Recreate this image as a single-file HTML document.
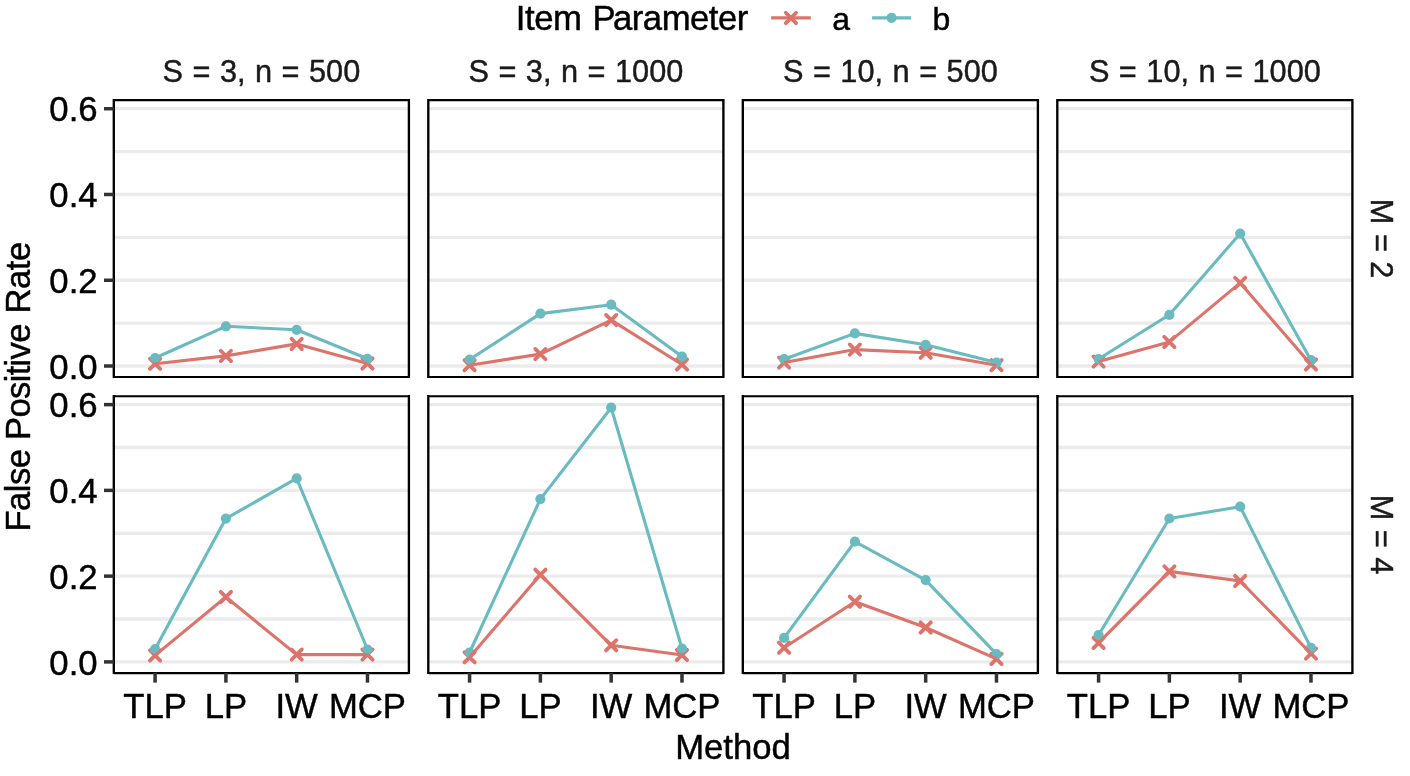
<!DOCTYPE html>
<html lang="en">
<head>
<meta charset="utf-8">
<title>False Positive Rate by Method</title>
<style>
html,body{margin:0;padding:0;background:#fff;}
body{width:1410px;height:776px;overflow:hidden;font-family:"Liberation Sans",Arial,Helvetica,sans-serif;}
svg{display:block;}
</style>
</head>
<body>
<svg width="1410" height="776" viewBox="0 0 1410 776" font-family="'Liberation Sans', Arial, Helvetica, sans-serif">
<style>text{stroke:#000;stroke-width:0.45px;stroke-linejoin:round} text.s{stroke:#1a1a1a}</style>
<rect width="1410" height="776" fill="#fff"/>
<g>
<line x1="113.80" x2="408.90" y1="366.00" y2="366.00" stroke="#EBEBEB" stroke-width="3.3"/>
<line x1="113.80" x2="408.90" y1="323.12" y2="323.12" stroke="#EBEBEB" stroke-width="3.3"/>
<line x1="113.80" x2="408.90" y1="280.24" y2="280.24" stroke="#EBEBEB" stroke-width="3.3"/>
<line x1="113.80" x2="408.90" y1="237.36" y2="237.36" stroke="#EBEBEB" stroke-width="3.3"/>
<line x1="113.80" x2="408.90" y1="194.48" y2="194.48" stroke="#EBEBEB" stroke-width="3.3"/>
<line x1="113.80" x2="408.90" y1="151.60" y2="151.60" stroke="#EBEBEB" stroke-width="3.3"/>
<line x1="113.80" x2="408.90" y1="108.72" y2="108.72" stroke="#EBEBEB" stroke-width="3.3"/>
<path d="M149.93 358.65L160.23 368.95M149.93 368.95L160.23 358.65" stroke="#DC746C" stroke-width="3.8" stroke-linecap="round" fill="none"/>
<path d="M220.73 350.75L231.03 361.05M220.73 361.05L231.03 350.75" stroke="#DC746C" stroke-width="3.8" stroke-linecap="round" fill="none"/>
<path d="M291.53 338.75L301.83 349.05M291.53 349.05L301.83 338.75" stroke="#DC746C" stroke-width="3.8" stroke-linecap="round" fill="none"/>
<path d="M362.33 358.35L372.63 368.65M362.33 368.65L372.63 358.35" stroke="#DC746C" stroke-width="3.8" stroke-linecap="round" fill="none"/>
<circle cx="155.08" cy="358.00" r="5.1" fill="#6ABBC0"/>
<circle cx="225.88" cy="326.30" r="5.1" fill="#6ABBC0"/>
<circle cx="296.68" cy="329.80" r="5.1" fill="#6ABBC0"/>
<circle cx="367.48" cy="358.80" r="5.1" fill="#6ABBC0"/>
<polyline points="155.08,363.80 225.88,355.90 296.68,343.90 367.48,363.50" fill="none" stroke="#DC746C" stroke-width="3.1" stroke-linejoin="round" stroke-linecap="butt"/>
<polyline points="155.08,358.00 225.88,326.30 296.68,329.80 367.48,358.80" fill="none" stroke="#6ABBC0" stroke-width="3.1" stroke-linejoin="round" stroke-linecap="butt"/>
<path d="M113.80 98.95V377.95M408.90 98.95V377.95" stroke="#000" stroke-width="2.35" fill="none"/>
<path d="M113.80 100.15H408.90M113.80 377.05H408.90" stroke="#000" stroke-width="2.1" fill="none"/>
</g>
<g>
<line x1="428.30" x2="723.40" y1="366.00" y2="366.00" stroke="#EBEBEB" stroke-width="3.3"/>
<line x1="428.30" x2="723.40" y1="323.12" y2="323.12" stroke="#EBEBEB" stroke-width="3.3"/>
<line x1="428.30" x2="723.40" y1="280.24" y2="280.24" stroke="#EBEBEB" stroke-width="3.3"/>
<line x1="428.30" x2="723.40" y1="237.36" y2="237.36" stroke="#EBEBEB" stroke-width="3.3"/>
<line x1="428.30" x2="723.40" y1="194.48" y2="194.48" stroke="#EBEBEB" stroke-width="3.3"/>
<line x1="428.30" x2="723.40" y1="151.60" y2="151.60" stroke="#EBEBEB" stroke-width="3.3"/>
<line x1="428.30" x2="723.40" y1="108.72" y2="108.72" stroke="#EBEBEB" stroke-width="3.3"/>
<path d="M464.43 360.05L474.73 370.35M464.43 370.35L474.73 360.05" stroke="#DC746C" stroke-width="3.8" stroke-linecap="round" fill="none"/>
<path d="M535.23 348.95L545.53 359.25M535.23 359.25L545.53 348.95" stroke="#DC746C" stroke-width="3.8" stroke-linecap="round" fill="none"/>
<path d="M606.03 314.95L616.33 325.25M606.03 325.25L616.33 314.95" stroke="#DC746C" stroke-width="3.8" stroke-linecap="round" fill="none"/>
<path d="M676.83 359.35L687.13 369.65M676.83 369.65L687.13 359.35" stroke="#DC746C" stroke-width="3.8" stroke-linecap="round" fill="none"/>
<circle cx="469.58" cy="359.50" r="5.1" fill="#6ABBC0"/>
<circle cx="540.38" cy="313.60" r="5.1" fill="#6ABBC0"/>
<circle cx="611.18" cy="304.70" r="5.1" fill="#6ABBC0"/>
<circle cx="681.98" cy="356.50" r="5.1" fill="#6ABBC0"/>
<polyline points="469.58,365.20 540.38,354.10 611.18,320.10 681.98,364.50" fill="none" stroke="#DC746C" stroke-width="3.1" stroke-linejoin="round" stroke-linecap="butt"/>
<polyline points="469.58,359.50 540.38,313.60 611.18,304.70 681.98,356.50" fill="none" stroke="#6ABBC0" stroke-width="3.1" stroke-linejoin="round" stroke-linecap="butt"/>
<path d="M428.30 98.95V377.95M723.40 98.95V377.95" stroke="#000" stroke-width="2.35" fill="none"/>
<path d="M428.30 100.15H723.40M428.30 377.05H723.40" stroke="#000" stroke-width="2.1" fill="none"/>
</g>
<g>
<line x1="742.80" x2="1037.90" y1="366.00" y2="366.00" stroke="#EBEBEB" stroke-width="3.3"/>
<line x1="742.80" x2="1037.90" y1="323.12" y2="323.12" stroke="#EBEBEB" stroke-width="3.3"/>
<line x1="742.80" x2="1037.90" y1="280.24" y2="280.24" stroke="#EBEBEB" stroke-width="3.3"/>
<line x1="742.80" x2="1037.90" y1="237.36" y2="237.36" stroke="#EBEBEB" stroke-width="3.3"/>
<line x1="742.80" x2="1037.90" y1="194.48" y2="194.48" stroke="#EBEBEB" stroke-width="3.3"/>
<line x1="742.80" x2="1037.90" y1="151.60" y2="151.60" stroke="#EBEBEB" stroke-width="3.3"/>
<line x1="742.80" x2="1037.90" y1="108.72" y2="108.72" stroke="#EBEBEB" stroke-width="3.3"/>
<path d="M778.93 357.45L789.23 367.75M778.93 367.75L789.23 357.45" stroke="#DC746C" stroke-width="3.8" stroke-linecap="round" fill="none"/>
<path d="M849.73 344.45L860.03 354.75M849.73 354.75L860.03 344.45" stroke="#DC746C" stroke-width="3.8" stroke-linecap="round" fill="none"/>
<path d="M920.53 347.65L930.83 357.95M920.53 357.95L930.83 347.65" stroke="#DC746C" stroke-width="3.8" stroke-linecap="round" fill="none"/>
<path d="M991.33 360.05L1001.63 370.35M991.33 370.35L1001.63 360.05" stroke="#DC746C" stroke-width="3.8" stroke-linecap="round" fill="none"/>
<circle cx="784.08" cy="359.20" r="5.1" fill="#6ABBC0"/>
<circle cx="854.88" cy="333.40" r="5.1" fill="#6ABBC0"/>
<circle cx="925.68" cy="344.80" r="5.1" fill="#6ABBC0"/>
<circle cx="996.48" cy="362.60" r="5.1" fill="#6ABBC0"/>
<polyline points="784.08,362.60 854.88,349.60 925.68,352.80 996.48,365.20" fill="none" stroke="#DC746C" stroke-width="3.1" stroke-linejoin="round" stroke-linecap="butt"/>
<polyline points="784.08,359.20 854.88,333.40 925.68,344.80 996.48,362.60" fill="none" stroke="#6ABBC0" stroke-width="3.1" stroke-linejoin="round" stroke-linecap="butt"/>
<path d="M742.80 98.95V377.95M1037.90 98.95V377.95" stroke="#000" stroke-width="2.35" fill="none"/>
<path d="M742.80 100.15H1037.90M742.80 377.05H1037.90" stroke="#000" stroke-width="2.1" fill="none"/>
</g>
<g>
<line x1="1057.30" x2="1352.40" y1="366.00" y2="366.00" stroke="#EBEBEB" stroke-width="3.3"/>
<line x1="1057.30" x2="1352.40" y1="323.12" y2="323.12" stroke="#EBEBEB" stroke-width="3.3"/>
<line x1="1057.30" x2="1352.40" y1="280.24" y2="280.24" stroke="#EBEBEB" stroke-width="3.3"/>
<line x1="1057.30" x2="1352.40" y1="237.36" y2="237.36" stroke="#EBEBEB" stroke-width="3.3"/>
<line x1="1057.30" x2="1352.40" y1="194.48" y2="194.48" stroke="#EBEBEB" stroke-width="3.3"/>
<line x1="1057.30" x2="1352.40" y1="151.60" y2="151.60" stroke="#EBEBEB" stroke-width="3.3"/>
<line x1="1057.30" x2="1352.40" y1="108.72" y2="108.72" stroke="#EBEBEB" stroke-width="3.3"/>
<path d="M1093.43 356.45L1103.73 366.75M1093.43 366.75L1103.73 356.45" stroke="#DC746C" stroke-width="3.8" stroke-linecap="round" fill="none"/>
<path d="M1164.23 336.75L1174.53 347.05M1164.23 347.05L1174.53 336.75" stroke="#DC746C" stroke-width="3.8" stroke-linecap="round" fill="none"/>
<path d="M1235.03 277.75L1245.33 288.05M1235.03 288.05L1245.33 277.75" stroke="#DC746C" stroke-width="3.8" stroke-linecap="round" fill="none"/>
<path d="M1305.83 359.35L1316.13 369.65M1305.83 369.65L1316.13 359.35" stroke="#DC746C" stroke-width="3.8" stroke-linecap="round" fill="none"/>
<circle cx="1098.58" cy="359.00" r="5.1" fill="#6ABBC0"/>
<circle cx="1169.38" cy="314.80" r="5.1" fill="#6ABBC0"/>
<circle cx="1240.18" cy="233.60" r="5.1" fill="#6ABBC0"/>
<circle cx="1310.98" cy="360.20" r="5.1" fill="#6ABBC0"/>
<polyline points="1098.58,361.60 1169.38,341.90 1240.18,282.90 1310.98,364.50" fill="none" stroke="#DC746C" stroke-width="3.1" stroke-linejoin="round" stroke-linecap="butt"/>
<polyline points="1098.58,359.00 1169.38,314.80 1240.18,233.60 1310.98,360.20" fill="none" stroke="#6ABBC0" stroke-width="3.1" stroke-linejoin="round" stroke-linecap="butt"/>
<path d="M1057.30 98.95V377.95M1352.40 98.95V377.95" stroke="#000" stroke-width="2.35" fill="none"/>
<path d="M1057.30 100.15H1352.40M1057.30 377.05H1352.40" stroke="#000" stroke-width="2.1" fill="none"/>
</g>
<line x1="104.0" x2="113.80" y1="366.00" y2="366.00" stroke="#333333" stroke-width="3.5"/>
<text x="97.6" y="378.60" font-size="34.7" text-anchor="end" fill="#000">0.0</text>
<line x1="104.0" x2="113.80" y1="280.24" y2="280.24" stroke="#333333" stroke-width="3.5"/>
<text x="97.6" y="292.84" font-size="34.7" text-anchor="end" fill="#000">0.2</text>
<line x1="104.0" x2="113.80" y1="194.48" y2="194.48" stroke="#333333" stroke-width="3.5"/>
<text x="97.6" y="207.08" font-size="34.7" text-anchor="end" fill="#000">0.4</text>
<line x1="104.0" x2="113.80" y1="108.72" y2="108.72" stroke="#333333" stroke-width="3.5"/>
<text x="97.6" y="121.32" font-size="34.7" text-anchor="end" fill="#000">0.6</text>
<text transform="translate(1370.6,238.6) rotate(90)" font-size="30.7" text-anchor="middle" class="s" fill="#1a1a1a" word-spacing="1">M = 2</text>
<g>
<line x1="113.80" x2="408.90" y1="661.90" y2="661.90" stroke="#EBEBEB" stroke-width="3.3"/>
<line x1="113.80" x2="408.90" y1="619.02" y2="619.02" stroke="#EBEBEB" stroke-width="3.3"/>
<line x1="113.80" x2="408.90" y1="576.14" y2="576.14" stroke="#EBEBEB" stroke-width="3.3"/>
<line x1="113.80" x2="408.90" y1="533.26" y2="533.26" stroke="#EBEBEB" stroke-width="3.3"/>
<line x1="113.80" x2="408.90" y1="490.38" y2="490.38" stroke="#EBEBEB" stroke-width="3.3"/>
<line x1="113.80" x2="408.90" y1="447.50" y2="447.50" stroke="#EBEBEB" stroke-width="3.3"/>
<line x1="113.80" x2="408.90" y1="404.62" y2="404.62" stroke="#EBEBEB" stroke-width="3.3"/>
<path d="M149.93 650.25L160.23 660.55M149.93 660.55L160.23 650.25" stroke="#DC746C" stroke-width="3.8" stroke-linecap="round" fill="none"/>
<path d="M220.73 591.85L231.03 602.15M220.73 602.15L231.03 591.85" stroke="#DC746C" stroke-width="3.8" stroke-linecap="round" fill="none"/>
<path d="M291.53 649.45L301.83 659.75M291.53 659.75L301.83 649.45" stroke="#DC746C" stroke-width="3.8" stroke-linecap="round" fill="none"/>
<path d="M362.33 649.45L372.63 659.75M362.33 659.75L372.63 649.45" stroke="#DC746C" stroke-width="3.8" stroke-linecap="round" fill="none"/>
<circle cx="155.08" cy="649.00" r="5.1" fill="#6ABBC0"/>
<circle cx="225.88" cy="518.60" r="5.1" fill="#6ABBC0"/>
<circle cx="296.68" cy="478.40" r="5.1" fill="#6ABBC0"/>
<circle cx="367.48" cy="649.50" r="5.1" fill="#6ABBC0"/>
<polyline points="155.08,655.40 225.88,597.00 296.68,654.60 367.48,654.60" fill="none" stroke="#DC746C" stroke-width="3.1" stroke-linejoin="round" stroke-linecap="butt"/>
<polyline points="155.08,649.00 225.88,518.60 296.68,478.40 367.48,649.50" fill="none" stroke="#6ABBC0" stroke-width="3.1" stroke-linejoin="round" stroke-linecap="butt"/>
<path d="M113.80 395.00V674.00M408.90 395.00V674.00" stroke="#000" stroke-width="2.35" fill="none"/>
<path d="M113.80 396.20H408.90M113.80 673.10H408.90" stroke="#000" stroke-width="2.1" fill="none"/>
</g>
<line x1="155.08" x2="155.08" y1="672.95" y2="682.65" stroke="#333333" stroke-width="3.5"/>
<text x="155.08" y="718.2" font-size="34.7" text-anchor="middle" fill="#000">TLP</text>
<line x1="225.88" x2="225.88" y1="672.95" y2="682.65" stroke="#333333" stroke-width="3.5"/>
<text x="225.88" y="718.2" font-size="34.7" text-anchor="middle" fill="#000">LP</text>
<line x1="296.68" x2="296.68" y1="672.95" y2="682.65" stroke="#333333" stroke-width="3.5"/>
<text x="296.68" y="718.2" font-size="34.7" text-anchor="middle" fill="#000">IW</text>
<line x1="367.48" x2="367.48" y1="672.95" y2="682.65" stroke="#333333" stroke-width="3.5"/>
<text x="367.48" y="718.2" font-size="34.7" text-anchor="middle" fill="#000">MCP</text>
<g>
<line x1="428.30" x2="723.40" y1="661.90" y2="661.90" stroke="#EBEBEB" stroke-width="3.3"/>
<line x1="428.30" x2="723.40" y1="619.02" y2="619.02" stroke="#EBEBEB" stroke-width="3.3"/>
<line x1="428.30" x2="723.40" y1="576.14" y2="576.14" stroke="#EBEBEB" stroke-width="3.3"/>
<line x1="428.30" x2="723.40" y1="533.26" y2="533.26" stroke="#EBEBEB" stroke-width="3.3"/>
<line x1="428.30" x2="723.40" y1="490.38" y2="490.38" stroke="#EBEBEB" stroke-width="3.3"/>
<line x1="428.30" x2="723.40" y1="447.50" y2="447.50" stroke="#EBEBEB" stroke-width="3.3"/>
<line x1="428.30" x2="723.40" y1="404.62" y2="404.62" stroke="#EBEBEB" stroke-width="3.3"/>
<path d="M464.43 652.15L474.73 662.45M464.43 662.45L474.73 652.15" stroke="#DC746C" stroke-width="3.8" stroke-linecap="round" fill="none"/>
<path d="M535.23 569.55L545.53 579.85M535.23 579.85L545.53 569.55" stroke="#DC746C" stroke-width="3.8" stroke-linecap="round" fill="none"/>
<path d="M606.03 640.15L616.33 650.45M606.03 650.45L616.33 640.15" stroke="#DC746C" stroke-width="3.8" stroke-linecap="round" fill="none"/>
<path d="M676.83 649.85L687.13 660.15M676.83 660.15L687.13 649.85" stroke="#DC746C" stroke-width="3.8" stroke-linecap="round" fill="none"/>
<circle cx="469.58" cy="652.50" r="5.1" fill="#6ABBC0"/>
<circle cx="540.38" cy="499.10" r="5.1" fill="#6ABBC0"/>
<circle cx="611.18" cy="407.70" r="5.1" fill="#6ABBC0"/>
<circle cx="681.98" cy="648.50" r="5.1" fill="#6ABBC0"/>
<polyline points="469.58,657.30 540.38,574.70 611.18,645.30 681.98,655.00" fill="none" stroke="#DC746C" stroke-width="3.1" stroke-linejoin="round" stroke-linecap="butt"/>
<polyline points="469.58,652.50 540.38,499.10 611.18,407.70 681.98,648.50" fill="none" stroke="#6ABBC0" stroke-width="3.1" stroke-linejoin="round" stroke-linecap="butt"/>
<path d="M428.30 395.00V674.00M723.40 395.00V674.00" stroke="#000" stroke-width="2.35" fill="none"/>
<path d="M428.30 396.20H723.40M428.30 673.10H723.40" stroke="#000" stroke-width="2.1" fill="none"/>
</g>
<line x1="469.58" x2="469.58" y1="672.95" y2="682.65" stroke="#333333" stroke-width="3.5"/>
<text x="469.58" y="718.2" font-size="34.7" text-anchor="middle" fill="#000">TLP</text>
<line x1="540.38" x2="540.38" y1="672.95" y2="682.65" stroke="#333333" stroke-width="3.5"/>
<text x="540.38" y="718.2" font-size="34.7" text-anchor="middle" fill="#000">LP</text>
<line x1="611.18" x2="611.18" y1="672.95" y2="682.65" stroke="#333333" stroke-width="3.5"/>
<text x="611.18" y="718.2" font-size="34.7" text-anchor="middle" fill="#000">IW</text>
<line x1="681.98" x2="681.98" y1="672.95" y2="682.65" stroke="#333333" stroke-width="3.5"/>
<text x="681.98" y="718.2" font-size="34.7" text-anchor="middle" fill="#000">MCP</text>
<g>
<line x1="742.80" x2="1037.90" y1="661.90" y2="661.90" stroke="#EBEBEB" stroke-width="3.3"/>
<line x1="742.80" x2="1037.90" y1="619.02" y2="619.02" stroke="#EBEBEB" stroke-width="3.3"/>
<line x1="742.80" x2="1037.90" y1="576.14" y2="576.14" stroke="#EBEBEB" stroke-width="3.3"/>
<line x1="742.80" x2="1037.90" y1="533.26" y2="533.26" stroke="#EBEBEB" stroke-width="3.3"/>
<line x1="742.80" x2="1037.90" y1="490.38" y2="490.38" stroke="#EBEBEB" stroke-width="3.3"/>
<line x1="742.80" x2="1037.90" y1="447.50" y2="447.50" stroke="#EBEBEB" stroke-width="3.3"/>
<line x1="742.80" x2="1037.90" y1="404.62" y2="404.62" stroke="#EBEBEB" stroke-width="3.3"/>
<path d="M778.93 642.55L789.23 652.85M778.93 652.85L789.23 642.55" stroke="#DC746C" stroke-width="3.8" stroke-linecap="round" fill="none"/>
<path d="M849.73 596.55L860.03 606.85M849.73 606.85L860.03 596.55" stroke="#DC746C" stroke-width="3.8" stroke-linecap="round" fill="none"/>
<path d="M920.53 622.35L930.83 632.65M920.53 632.65L930.83 622.35" stroke="#DC746C" stroke-width="3.8" stroke-linecap="round" fill="none"/>
<path d="M991.33 653.75L1001.63 664.05M991.33 664.05L1001.63 653.75" stroke="#DC746C" stroke-width="3.8" stroke-linecap="round" fill="none"/>
<circle cx="784.08" cy="637.90" r="5.1" fill="#6ABBC0"/>
<circle cx="854.88" cy="541.60" r="5.1" fill="#6ABBC0"/>
<circle cx="925.68" cy="580.10" r="5.1" fill="#6ABBC0"/>
<circle cx="996.48" cy="654.10" r="5.1" fill="#6ABBC0"/>
<polyline points="784.08,647.70 854.88,601.70 925.68,627.50 996.48,658.90" fill="none" stroke="#DC746C" stroke-width="3.1" stroke-linejoin="round" stroke-linecap="butt"/>
<polyline points="784.08,637.90 854.88,541.60 925.68,580.10 996.48,654.10" fill="none" stroke="#6ABBC0" stroke-width="3.1" stroke-linejoin="round" stroke-linecap="butt"/>
<path d="M742.80 395.00V674.00M1037.90 395.00V674.00" stroke="#000" stroke-width="2.35" fill="none"/>
<path d="M742.80 396.20H1037.90M742.80 673.10H1037.90" stroke="#000" stroke-width="2.1" fill="none"/>
</g>
<line x1="784.08" x2="784.08" y1="672.95" y2="682.65" stroke="#333333" stroke-width="3.5"/>
<text x="784.08" y="718.2" font-size="34.7" text-anchor="middle" fill="#000">TLP</text>
<line x1="854.88" x2="854.88" y1="672.95" y2="682.65" stroke="#333333" stroke-width="3.5"/>
<text x="854.88" y="718.2" font-size="34.7" text-anchor="middle" fill="#000">LP</text>
<line x1="925.68" x2="925.68" y1="672.95" y2="682.65" stroke="#333333" stroke-width="3.5"/>
<text x="925.68" y="718.2" font-size="34.7" text-anchor="middle" fill="#000">IW</text>
<line x1="996.48" x2="996.48" y1="672.95" y2="682.65" stroke="#333333" stroke-width="3.5"/>
<text x="996.48" y="718.2" font-size="34.7" text-anchor="middle" fill="#000">MCP</text>
<g>
<line x1="1057.30" x2="1352.40" y1="661.90" y2="661.90" stroke="#EBEBEB" stroke-width="3.3"/>
<line x1="1057.30" x2="1352.40" y1="619.02" y2="619.02" stroke="#EBEBEB" stroke-width="3.3"/>
<line x1="1057.30" x2="1352.40" y1="576.14" y2="576.14" stroke="#EBEBEB" stroke-width="3.3"/>
<line x1="1057.30" x2="1352.40" y1="533.26" y2="533.26" stroke="#EBEBEB" stroke-width="3.3"/>
<line x1="1057.30" x2="1352.40" y1="490.38" y2="490.38" stroke="#EBEBEB" stroke-width="3.3"/>
<line x1="1057.30" x2="1352.40" y1="447.50" y2="447.50" stroke="#EBEBEB" stroke-width="3.3"/>
<line x1="1057.30" x2="1352.40" y1="404.62" y2="404.62" stroke="#EBEBEB" stroke-width="3.3"/>
<path d="M1093.43 637.75L1103.73 648.05M1093.43 648.05L1103.73 637.75" stroke="#DC746C" stroke-width="3.8" stroke-linecap="round" fill="none"/>
<path d="M1164.23 566.25L1174.53 576.55M1164.23 576.55L1174.53 566.25" stroke="#DC746C" stroke-width="3.8" stroke-linecap="round" fill="none"/>
<path d="M1235.03 575.85L1245.33 586.15M1235.03 586.15L1245.33 575.85" stroke="#DC746C" stroke-width="3.8" stroke-linecap="round" fill="none"/>
<path d="M1305.83 648.45L1316.13 658.75M1305.83 658.75L1316.13 648.45" stroke="#DC746C" stroke-width="3.8" stroke-linecap="round" fill="none"/>
<circle cx="1098.58" cy="635.00" r="5.1" fill="#6ABBC0"/>
<circle cx="1169.38" cy="518.50" r="5.1" fill="#6ABBC0"/>
<circle cx="1240.18" cy="506.70" r="5.1" fill="#6ABBC0"/>
<circle cx="1310.98" cy="647.90" r="5.1" fill="#6ABBC0"/>
<polyline points="1098.58,642.90 1169.38,571.40 1240.18,581.00 1310.98,653.60" fill="none" stroke="#DC746C" stroke-width="3.1" stroke-linejoin="round" stroke-linecap="butt"/>
<polyline points="1098.58,635.00 1169.38,518.50 1240.18,506.70 1310.98,647.90" fill="none" stroke="#6ABBC0" stroke-width="3.1" stroke-linejoin="round" stroke-linecap="butt"/>
<path d="M1057.30 395.00V674.00M1352.40 395.00V674.00" stroke="#000" stroke-width="2.35" fill="none"/>
<path d="M1057.30 396.20H1352.40M1057.30 673.10H1352.40" stroke="#000" stroke-width="2.1" fill="none"/>
</g>
<line x1="1098.58" x2="1098.58" y1="672.95" y2="682.65" stroke="#333333" stroke-width="3.5"/>
<text x="1098.58" y="718.2" font-size="34.7" text-anchor="middle" fill="#000">TLP</text>
<line x1="1169.38" x2="1169.38" y1="672.95" y2="682.65" stroke="#333333" stroke-width="3.5"/>
<text x="1169.38" y="718.2" font-size="34.7" text-anchor="middle" fill="#000">LP</text>
<line x1="1240.18" x2="1240.18" y1="672.95" y2="682.65" stroke="#333333" stroke-width="3.5"/>
<text x="1240.18" y="718.2" font-size="34.7" text-anchor="middle" fill="#000">IW</text>
<line x1="1310.98" x2="1310.98" y1="672.95" y2="682.65" stroke="#333333" stroke-width="3.5"/>
<text x="1310.98" y="718.2" font-size="34.7" text-anchor="middle" fill="#000">MCP</text>
<line x1="104.0" x2="113.80" y1="661.90" y2="661.90" stroke="#333333" stroke-width="3.5"/>
<text x="97.6" y="674.50" font-size="34.7" text-anchor="end" fill="#000">0.0</text>
<line x1="104.0" x2="113.80" y1="576.14" y2="576.14" stroke="#333333" stroke-width="3.5"/>
<text x="97.6" y="588.74" font-size="34.7" text-anchor="end" fill="#000">0.2</text>
<line x1="104.0" x2="113.80" y1="490.38" y2="490.38" stroke="#333333" stroke-width="3.5"/>
<text x="97.6" y="502.98" font-size="34.7" text-anchor="end" fill="#000">0.4</text>
<line x1="104.0" x2="113.80" y1="404.62" y2="404.62" stroke="#333333" stroke-width="3.5"/>
<text x="97.6" y="417.22" font-size="34.7" text-anchor="end" fill="#000">0.6</text>
<text transform="translate(1370.6,534.5) rotate(90)" font-size="30.7" text-anchor="middle" class="s" fill="#1a1a1a" word-spacing="1">M = 4</text>
<text x="261.35" y="82.0" font-size="30.7" text-anchor="middle" class="s" fill="#1a1a1a" word-spacing="1">S = 3, n = 500</text>
<text x="575.85" y="82.0" font-size="30.7" text-anchor="middle" class="s" fill="#1a1a1a" word-spacing="1">S = 3, n = 1000</text>
<text x="890.35" y="82.0" font-size="30.7" text-anchor="middle" class="s" fill="#1a1a1a" word-spacing="1">S = 10, n = 500</text>
<text x="1204.85" y="82.0" font-size="30.7" text-anchor="middle" class="s" fill="#1a1a1a" word-spacing="1">S = 10, n = 1000</text>
<text x="733" y="758.8" font-size="34.7" text-anchor="middle" fill="#000">Method</text>
<g transform="translate(30.2,0) rotate(-90)" font-size="34.7" fill="#000">
<text x="-531.60" y="0" letter-spacing="-0.52">False</text>
<text x="-439.90" y="0" letter-spacing="-0.72">Positive</text>
<text x="-313.50" y="0" letter-spacing="-0.5">Rate</text>
</g>
<text x="515.8" y="30" font-size="34.7" fill="#000" letter-spacing="-0.48" dx="0 0 0 0 0 1.83 -2.1">Item Parameter</text>
<path d="M785.75 12.75L796.05 23.05M785.75 23.05L796.05 12.75" stroke="#DC746C" stroke-width="3.8" stroke-linecap="round" fill="none"/>
<line x1="771.1" x2="810.8" y1="17.9" y2="17.9" stroke="#DC746C" stroke-width="3.1"/>
<text x="832.3" y="29.7" font-size="32.0" fill="#000">a</text>
<circle cx="891.55" cy="17.85" r="5.1" fill="#6ABBC0"/>
<line x1="872.1" x2="911.1" y1="17.85" y2="17.85" stroke="#6ABBC0" stroke-width="3.1"/>
<text x="932.6" y="29.6" font-size="32.0" fill="#000">b</text>
</svg>
</body>
</html>
